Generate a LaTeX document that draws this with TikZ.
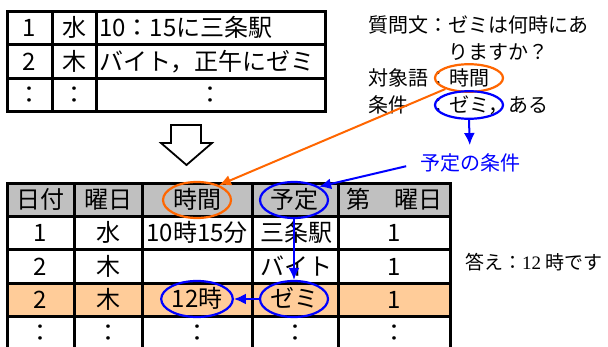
\documentclass[tikz,border=0pt]{standalone}
\usepackage{fontspec}
\setmainfont{Noto Sans CJK JP}
\newfontfamily\answerserif{Liberation Serif}
\usetikzlibrary{arrows.meta,shapes.geometric}
\definecolor{myorange}{RGB}{255,102,0}
\definecolor{peach}{RGB}{255,204,153}
\definecolor{hdrgray}{RGB}{192,192,192}
\definecolor{myblue}{RGB}{0,0,255}
\begin{document}
\begin{tikzpicture}[x=1pt,y=-1pt,
  tbl/.style={line width=3pt},
  cell/.style={font=\fontsize{24}{24}\selectfont, inner sep=0pt, text height=20pt, text depth=3pt},
  note/.style={font=\fontsize{20}{20}\selectfont, inner sep=0pt, text height=17pt, text depth=2.5pt, anchor=west},
  ell/.style={ellipse, draw, line width=2.2pt, inner sep=0pt, minimum width=68pt, minimum height=36pt},
  smallell/.style={ellipse, draw, line width=2.2pt, inner sep=0pt, minimum width=68pt, minimum height=27pt,
     font=\fontsize{20}{20}\selectfont, text height=17pt, text depth=2.5pt},
  conn/.style={line width=2pt, -{Latex[length=12pt,width=11pt]}}
]
\useasboundingbox (0,0) rectangle (608,347);
\fill[white] (0,0) rectangle (608,347);

% ---------- top table ----------
\draw[tbl] (7,12) rectangle (325,112);
\draw[tbl] (52,12) -- (52,112);
\draw[tbl] (96,12) -- (96,112);
\draw[tbl] (7,45) -- (325,45);
\draw[tbl] (7,79) -- (325,79);
\node[cell] (a11) at (29.5,28) {1};
\node[cell] (a12) at (74,28) {水};
\node[cell,anchor=west] (a13) at (99,28) {10：15に三条駅};
\node[cell] (a21) at (29.5,62) {2};
\node[cell] (a22) at (74,62) {木};
\node[cell,anchor=west] (a23) at (99,62) {バイト，正午にゼミ};
\node[cell] (a31) at (29.5,95) {：};
\node[cell] (a32) at (74,95) {：};
\node[cell] (a33) at (210,95) {：};

% ---------- hollow arrow ----------
\draw[line width=1.8pt, fill=white, line join=miter]
  (171,125) -- (201,125) -- (201,143) -- (212,143) -- (186.5,165) -- (161,143) -- (171,143) -- cycle;

% ---------- bottom table ----------
\fill[hdrgray] (7,184) rectangle (450,217);
\fill[peach] (7,284) rectangle (450,317);
\draw[tbl] (7,347) -- (7,184) -- (450,184) -- (450,347);
\foreach \x in {74,142,252,338} \draw[tbl] (\x,184) -- (\x,347);
\foreach \y in {217,250,284,317} \draw[tbl] (7,\y) -- (450,\y);

\node[cell] (h1) at (40.5,200) {日付};
\node[cell] (h2) at (108,200) {曜日};
\node[cell,ell,draw=myorange] (hh) at (197,200) {時間};
\node[cell,ell,draw=myblue] (yt) at (294,200) {予定};
\node[cell] (h5) at (394,200) {第　曜日};

\node[cell] (b11) at (40.5,233) {1};
\node[cell] (b12) at (108,233) {水};
\node[cell] (b13) at (197,233) {10時15分};
\node[cell] (b14) at (296,233) {三条駅};
\node[cell] (b15) at (394,233) {1};

\node[cell] (b21) at (40.5,267) {2};
\node[cell] (b22) at (108,267) {木};
\node[cell] (b24) at (296,267) {バイト};
\node[cell] (b25) at (394,267) {1};

\node[cell] (b31) at (40.5,300) {2};
\node[cell] (b32) at (108,300) {木};
\node[cell,ell,draw=myblue] (t12) at (197,299) {12時};
\node[cell,ell,draw=myblue] (zt) at (294,299) {ゼミ};
\node[cell] (b35) at (394,300) {1};

\node[cell] (b41) at (40.5,333) {：};
\node[cell] (b42) at (108,333) {：};
\node[cell] (b43) at (197,333) {：};
\node[cell] (b44) at (295,333) {：};
\node[cell] (b45) at (394,333) {：};

% ---------- question text ----------
\node[note] (q1) at (368,25) {質問文：ゼミは何時にあ};
\node[note] (q2) at (448,52) {りますか？};
\node[note] (q3) at (368,78) {対象語：};
\node[smallell,draw=myorange] (ot) at (469,78) {時間};
\node[note] (q4) at (368,105) {条件　：};
\node[smallell,draw=myblue] (bz) at (469,105) {ゼミ};
\node[note] (q5) at (488,105) {，ある};
\node[note,anchor=center,text=myblue] (cond) at (470,163) {予定の条件};

\node[note,font=\fontsize{19}{19}\selectfont] (ans) at (465,262) {答え：{\answerserif 12} 時です};

% ---------- connectors ----------
\draw[conn,myorange] (ot.205) -- (hh.34);
\draw[conn,myblue,shorten >=8pt] (bz.south) -- (cond.north);
\draw[conn,myblue,shorten <=14pt] (cond.west) -- (yt.28);
\draw[conn,myblue] (yt) -- (zt);
\draw[conn,myblue] (zt) -- (t12);
\end{tikzpicture}
\end{document}
